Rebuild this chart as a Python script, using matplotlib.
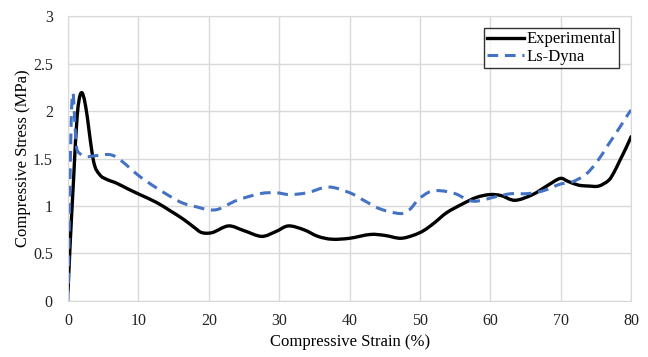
import matplotlib.pyplot as plt
from matplotlib.path import Path
from matplotlib.patches import PathPatch
from matplotlib.lines import Line2D

# Experimental curve (strain %, stress MPa)
exp_x = [0, 0.3, 0.8, 1.3, 1.85, 2.5, 3.6, 4.5, 5.5, 6.9, 8.5, 10.2, 12.5, 14.5, 16.4,
         18.0, 19.0, 20.5, 22.8, 25.0, 27.5, 29.5, 31.3, 33.5, 35.5, 37.5, 40.0, 42.9,
         45.0, 47.2, 49.0, 50.5, 52.0, 53.8, 56.0, 58.0, 59.9, 61.5, 63.5, 66.0, 68.0,
         69.9, 71.0, 72.5, 74.0, 75.4, 76.8, 77.6, 78.4, 79.2, 80.0]
exp_y = [0.1, 0.6, 1.3, 1.95, 2.19, 2.05, 1.48, 1.33, 1.28, 1.24, 1.18, 1.12, 1.04, 0.95, 0.86,
         0.77, 0.72, 0.72, 0.79, 0.74, 0.68, 0.73, 0.79, 0.75, 0.68, 0.65, 0.66, 0.70,
         0.69, 0.66, 0.69, 0.74, 0.82, 0.93, 1.02, 1.09, 1.12, 1.11, 1.06, 1.12, 1.21,
         1.29, 1.26, 1.22, 1.21, 1.21, 1.27, 1.36, 1.48, 1.60, 1.73]

# Ls-Dyna curve
dyna_x = [0, 0.2, 0.45, 0.7, 0.95, 1.2, 1.7, 2.65, 4.0, 6.0, 7.5, 10.2, 13.0, 16.0, 18.3,
          20.0, 21.5, 24.0, 27.3, 29.5, 31.5, 34.0, 37.0, 40.0, 42.0, 44.3, 47.2, 48.5,
          49.8, 51.4, 53.0, 55.0, 57.6, 60.9, 63.0, 65.2, 67.5, 69.9, 71.5, 73.5, 75.1,
          76.7, 78.4, 79.6, 80.0]
dyna_y = [0.0, 0.9, 1.9, 2.19, 1.9, 1.62, 1.55, 1.52, 1.53, 1.54, 1.48, 1.31, 1.17, 1.04, 0.99,
          0.96, 0.97, 1.06, 1.13, 1.14, 1.12, 1.14, 1.20, 1.14, 1.06, 0.97, 0.92, 0.96,
          1.07, 1.15, 1.16, 1.13, 1.05, 1.10, 1.13, 1.13, 1.16, 1.23, 1.25, 1.33, 1.46,
          1.64, 1.83, 1.97, 2.01]

x_ticks = [0, 10, 20, 30, 40, 50, 60, 70, 80]
y_ticks = [0, 0.5, 1, 1.5, 2, 2.5, 3]
y_tick_labels = ["0", "0.5", "1", "1.5", "2", "2.5", "3"]

BLUE = '#4472C4'


def smooth_path(xs, ys, k=1 / 6):
    # Excel-like smoothed line: bezier segments through every point
    pts = list(zip(xs, ys))
    verts = [pts[0]]
    codes = [Path.MOVETO]
    n = len(pts)
    for i in range(n - 1):
        p0 = pts[i - 1] if i > 0 else pts[i]
        p1 = pts[i]
        p2 = pts[i + 1]
        p3 = pts[i + 2] if i + 2 < n else pts[i + 1]
        c1 = (p1[0] + (p2[0] - p0[0]) * k, p1[1] + (p2[1] - p0[1]) * k)
        c2 = (p2[0] - (p3[0] - p1[0]) * k, p2[1] - (p3[1] - p1[1]) * k)
        verts += [c1, c2, p2]
        codes += [Path.CURVE4] * 3
    return Path(verts, codes)


plt.rcParams['font.family'] = ['Liberation Serif', 'DejaVu Serif']

fig = plt.figure(figsize=(6.48, 3.57), dpi=100)
ax = fig.add_axes([0.105, 0.157, 0.869, 0.798])

ax.add_patch(PathPatch(smooth_path(exp_x, exp_y), fill=False, edgecolor='black',
                       lw=2.4, capstyle='round', joinstyle='round'))
ax.add_patch(PathPatch(smooth_path(dyna_x, dyna_y), fill=False, edgecolor=BLUE,
                       lw=2.2, linestyle=(0, (3.5, 2.2))))

ax.set_xlim(0, 80)
ax.set_ylim(0, 3)
ax.set_xticks(x_ticks)
ax.set_yticks(y_ticks)
ax.set_yticklabels(y_tick_labels)
ax.tick_params(length=0, labelsize=11.5, colors='#222222')
ax.tick_params(axis='x', pad=9)
ax.tick_params(axis='y', pad=11)
ax.grid(True, color='#d9d9d9', lw=1)
ax.set_axisbelow(True)
for s in ax.spines.values():
    s.set_color('#d9d9d9')

ax.set_xlabel('Compressive Strain (%)', fontsize=12, labelpad=3)
ax.set_ylabel('Compressive Stress (MPa)', fontsize=12, labelpad=1)

handles = [Line2D([], [], color='black', lw=2.4),
           Line2D([], [], color=BLUE, lw=2.2, dashes=(3.5, 2.2))]
leg = ax.legend(handles, ['Experimental', 'Ls-Dyna'], loc='upper right',
                bbox_to_anchor=(0.979, 0.958), fontsize=12,
                frameon=True, fancybox=False, handlelength=2.2, handletextpad=0.15,
                borderpad=0.2, labelspacing=0.1, borderaxespad=0)
leg.get_frame().set_edgecolor('black')
leg.get_frame().set_linewidth(1.0)

fig.savefig('out.png', dpi=100)
